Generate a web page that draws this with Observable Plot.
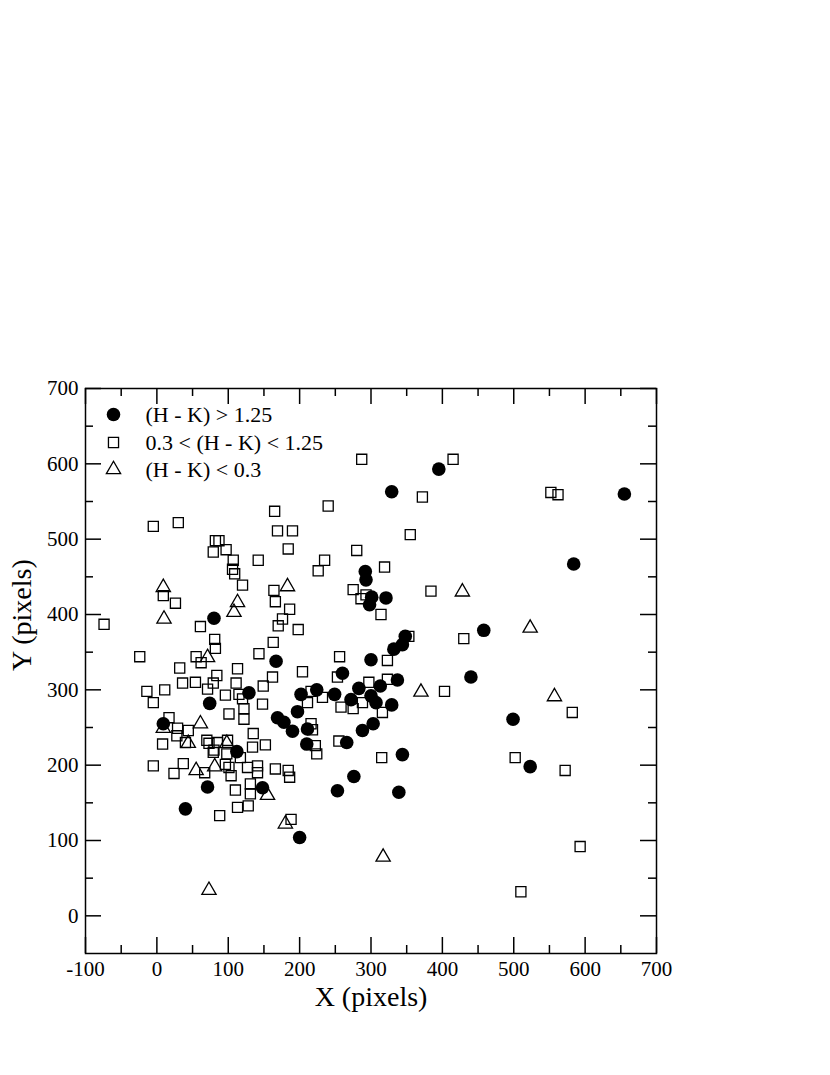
<!DOCTYPE html>
<html>
<head>
<meta charset="utf-8">
<script src="https://cdn.jsdelivr.net/npm/d3@7"></script>
<script src="https://cdn.jsdelivr.net/npm/@observablehq/plot@0.6"></script>
<style>
  html, body { margin: 0; padding: 0; background: white; }
</style>
</head>
<body>
<div id="chart"></div>
<script>
// (H - K) > 1.25  — filled circles  [x, y]
const highHK = [
  [395,593],[329,563],[655,560],[584,467],[292,457],[293,446],[301,423],[321,422],
  [298,413],[80,395],[348,371],[344,360],[332,354],[458,379],[167,338],[300,340],
  [260,322],[440,317],[337,313],[313,305],[283,302],[224,300],[129,296],[202,294],
  [249,294],[300,292],[272,287],[307,283],[329,280],[74,282],[197,271],[169,263],
  [178,257],[9,255],[190,245],[211,248],[303,255],[288,246],[266,230],[210,228],
  [112,218],[344,214],[276,185],[71,171],[148,170],[253,166],[339,164],[40,142],
  [200,104],[499,261],[523,198]
];

// 0.3 < (H - K) < 1.25 — open squares [x, y]
const midHK = [
  [-5,517],[30,522],[165,537],[169,511],[82,498],[87,498],[79,483],[97,486],
  [107,472],[142,472],[106,460],[109,454],[287,606],[415,606],[372,556],[240,544],
  [190,511],[355,506],[184,487],[280,485],[235,472],[226,458],[319,463],[552,562],
  [562,559],[120,439],[9,425],[26,415],[-74,387],[61,384],[81,367],[82,355],
  [-24,344],[55,344],[62,336],[32,329],[113,328],[84,319],[36,309],[54,310],
  [79,309],[111,309],[71,301],[-14,298],[11,300],[96,293],[115,294],[120,288],
  [-5,283],[122,275],[164,432],[275,433],[166,417],[286,421],[293,426],[314,400],
  [186,407],[176,394],[170,385],[198,380],[353,371],[163,363],[143,348],[256,344],
  [323,339],[204,324],[253,317],[162,317],[323,314],[149,305],[297,310],[216,298],
  [232,290],[148,281],[211,283],[288,283],[258,277],[275,275],[316,270],[216,255],
  [218,247],[255,232],[222,226],[224,215],[315,210],[135,242],[134,224],[152,227],
  [141,199],[141,190],[127,197],[166,195],[184,193],[186,184],[131,175],[131,162],
  [122,261],[101,268],[17,263],[29,249],[44,246],[28,239],[40,230],[8,228],
  [70,233],[73,229],[85,230],[99,233],[80,220],[79,217],[98,215],[117,210],
  [-5,199],[37,202],[24,189],[67,190],[96,201],[101,197],[104,186],[110,167],
  [113,144],[128,146],[88,133],[188,128],[384,431],[430,368],[403,298],[582,270],
  [502,210],[572,193],[593,92],[510,32]
];

// (H - K) < 0.3 — open triangles [x, y]
const lowHK = [
  [9,436],[113,416],[108,403],[10,394],[183,437],[71,343],[428,430],[523,382],
  [370,297],[557,291],[61,255],[9,249],[44,229],[98,229],[55,193],[81,198],
  [155,160],[180,122],[317,78],[73,34]
];

const legendLabels = ["(H - K) > 1.25", "0.3 < (H - K) < 1.25", "(H - K) < 0.3"];
const xMajorTicks = [-100, 0, 100, 200, 300, 400, 500, 600, 700];
const xMinorTicks = [-50, 50, 150, 250, 350, 450, 550, 650];
const yMajorTicks = [0, 100, 200, 300, 400, 500, 600, 700];
const yMinorTicks = [50, 150, 250, 350, 450, 550, 650];
const xTitle = "X (pixels)";
const yTitle = "Y (pixels)";

const W = 830, H = 1075;
const mL = 85, mR = 174, mT = 388, mB = 122;
const fw = W - mL - mR, fh = H - mT - mB;
const font = "Liberation Serif, Times New Roman, serif";
const sw = 1.3;
const rowDy = [26, 54, 81];
const legendSymbols = ["circle", "square", "triangle"];
const legendR = [6.8, 5.7, 5.3];

const legendMarks = legendLabels.flatMap((label, i) => [
  Plot.dot([label], { frameAnchor: "top-left", dx: 28, dy: rowDy[i], symbol: legendSymbols[i], r: legendR[i],
    fill: i === 0 ? "black" : "none", stroke: i === 0 ? "none" : "black", strokeWidth: sw }),
  Plot.text([label], { frameAnchor: "top-left", text: d => d, dx: 60, dy: rowDy[i],
    fontSize: 22, fontFamily: font, textAnchor: "start", lineAnchor: "middle" })
]);

const chart = Plot.plot({
  width: W,
  height: H,
  marginLeft: mL,
  marginRight: mR,
  marginTop: mT,
  marginBottom: mB,
  style: { fontFamily: font, background: "white", color: "black" },
  x: { domain: [-100, 700] },
  y: { domain: [-50, 700] },
  marks: [
    // ticks (inward)
    Plot.tickX(xMajorTicks, { x: d => d, insetTop: fh - 16, stroke: "black", strokeWidth: 1.5 }),
    Plot.tickX(xMajorTicks, { x: d => d, insetBottom: fh - 16, stroke: "black", strokeWidth: 1.5 }),
    Plot.tickX(xMinorTicks, { x: d => d, insetTop: fh - 8, stroke: "black", strokeWidth: 1.5 }),
    Plot.tickX(xMinorTicks, { x: d => d, insetBottom: fh - 8, stroke: "black", strokeWidth: 1.5 }),
    Plot.tickY(yMajorTicks, { y: d => d, insetRight: fw - 16, stroke: "black", strokeWidth: 1.5 }),
    Plot.tickY(yMajorTicks, { y: d => d, insetLeft: fw - 16, stroke: "black", strokeWidth: 1.5 }),
    Plot.tickY(yMinorTicks, { y: d => d, insetRight: fw - 8, stroke: "black", strokeWidth: 1.5 }),
    Plot.tickY(yMinorTicks, { y: d => d, insetLeft: fw - 8, stroke: "black", strokeWidth: 1.5 }),
    // tick labels
    Plot.axisX({ ticks: xMajorTicks, tickSize: 0, tickPadding: 8, tickFormat: d => String(d),
      label: null, fontSize: 21, fontFamily: font }),
    Plot.axisY({ ticks: yMajorTicks, tickSize: 0, tickPadding: 7, tickFormat: d => String(d),
      label: null, fontSize: 21, fontFamily: font }),
    // data
    Plot.dot(midHK, { x: d => d[0], y: d => d[1], symbol: "square", r: 5.7,
      fill: "none", stroke: "black", strokeWidth: sw }),
    Plot.dot(lowHK, { x: d => d[0], y: d => d[1], symbol: "triangle", r: 5.3,
      fill: "none", stroke: "black", strokeWidth: sw }),
    Plot.dot(highHK, { x: d => d[0], y: d => d[1], symbol: "circle", r: 6.8,
      fill: "black", stroke: "none" }),
    // legend
    ...legendMarks,
    // frame
    Plot.frame({ stroke: "black", strokeWidth: 1.5 }),
    // titles
    Plot.text([xTitle], { frameAnchor: "bottom", text: d => d, dy: 52, fontSize: 28, fontFamily: font }),
    Plot.text([yTitle], { frameAnchor: "left", text: d => d, dx: -63, rotate: -90, fontSize: 28, fontFamily: font })
  ]
});

document.getElementById("chart").appendChild(chart);
</script>
</body>
</html>
